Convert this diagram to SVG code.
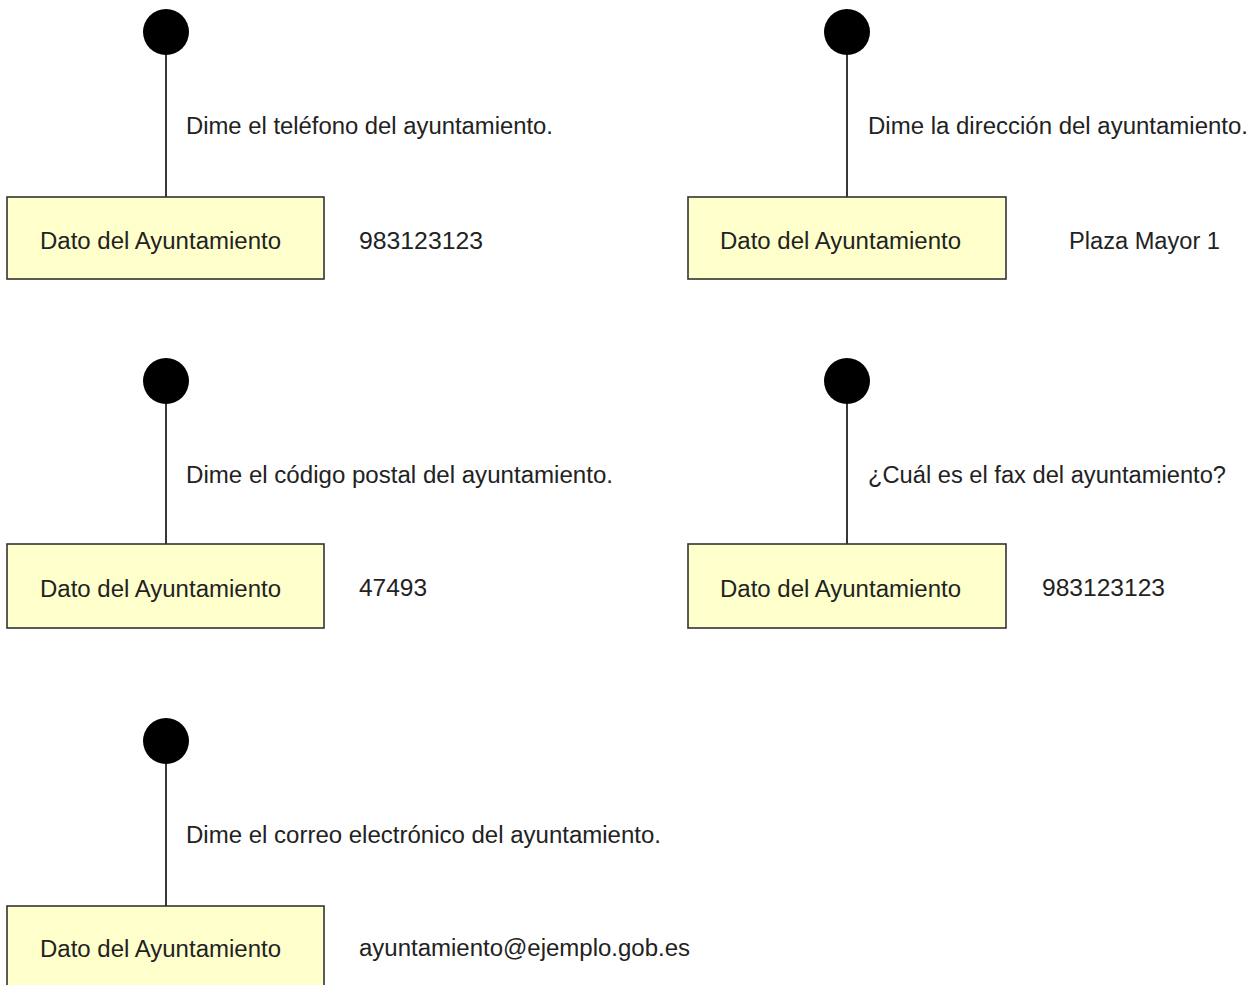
<svg xmlns="http://www.w3.org/2000/svg" width="1258" height="985" viewBox="0 0 1258 985">
<style>
.bg{fill:#ffffff}
.box{fill:#ffffcc;stroke:#333333;stroke-width:1.6}
.dot{fill:#000000}
.conn{stroke:#222222;stroke-width:1.8;fill:none}
.t{font-family:"Liberation Sans",Arial,sans-serif;font-size:23px;fill:#222222}
</style>
<rect class="bg" x="0" y="0" width="1258" height="985"/>
<g id="connectors">
<line class="conn" x1="166" y1="54" x2="166" y2="197"/>
<line class="conn" x1="847" y1="54" x2="847" y2="197"/>
<line class="conn" x1="166" y1="403" x2="166" y2="544"/>
<line class="conn" x1="847" y1="403" x2="847" y2="544"/>
<line class="conn" x1="166" y1="763" x2="166" y2="906"/>
</g>
<g id="start1"><circle class="dot" cx="166" cy="32" r="23"/></g>
<g id="start2"><circle class="dot" cx="847" cy="32" r="23"/></g>
<g id="start3"><circle class="dot" cx="166" cy="381" r="23"/></g>
<g id="start4"><circle class="dot" cx="847" cy="381" r="23"/></g>
<g id="start5"><circle class="dot" cx="166" cy="741" r="23"/></g>
<g id="label1"><text class="t" x="186" y="134" textLength="367" lengthAdjust="spacingAndGlyphs">Dime el teléfono del ayuntamiento.</text></g>
<g id="label2"><text class="t" x="868" y="134" textLength="380" lengthAdjust="spacingAndGlyphs">Dime la dirección del ayuntamiento.</text></g>
<g id="label3"><text class="t" x="186" y="483" textLength="427" lengthAdjust="spacingAndGlyphs">Dime el código postal del ayuntamiento.</text></g>
<g id="label4"><text class="t" x="868" y="483" textLength="358" lengthAdjust="spacingAndGlyphs">¿Cuál es el fax del ayuntamiento?</text></g>
<g id="label5"><text class="t" x="186" y="843" textLength="475" lengthAdjust="spacingAndGlyphs">Dime el correo electrónico del ayuntamiento.</text></g>
<g id="node1"><rect class="box" x="7" y="197" width="317" height="82"/><text class="t" x="40" y="249" textLength="241" lengthAdjust="spacingAndGlyphs">Dato del Ayuntamiento</text></g>
<g id="node2"><rect class="box" x="688" y="197" width="318" height="82"/><text class="t" x="720" y="249" textLength="241" lengthAdjust="spacingAndGlyphs">Dato del Ayuntamiento</text></g>
<g id="node3"><rect class="box" x="7" y="544" width="317" height="84"/><text class="t" x="40" y="597" textLength="241" lengthAdjust="spacingAndGlyphs">Dato del Ayuntamiento</text></g>
<g id="node4"><rect class="box" x="688" y="544" width="318" height="84"/><text class="t" x="720" y="597" textLength="241" lengthAdjust="spacingAndGlyphs">Dato del Ayuntamiento</text></g>
<g id="node5"><rect class="box" x="7" y="906" width="317" height="84"/><text class="t" x="40" y="957" textLength="241" lengthAdjust="spacingAndGlyphs">Dato del Ayuntamiento</text></g>
<g id="value1"><text class="t" x="359" y="249" textLength="124" lengthAdjust="spacingAndGlyphs">983123123</text></g>
<g id="value2"><text class="t" x="1069" y="249" textLength="151" lengthAdjust="spacingAndGlyphs">Plaza Mayor 1</text></g>
<g id="value3"><text class="t" x="359" y="596" textLength="68" lengthAdjust="spacingAndGlyphs">47493</text></g>
<g id="value4"><text class="t" x="1042" y="596" textLength="123" lengthAdjust="spacingAndGlyphs">983123123</text></g>
<g id="value5"><text class="t" x="359" y="956" textLength="331" lengthAdjust="spacingAndGlyphs">ayuntamiento@ejemplo.gob.es</text></g>
</svg>
